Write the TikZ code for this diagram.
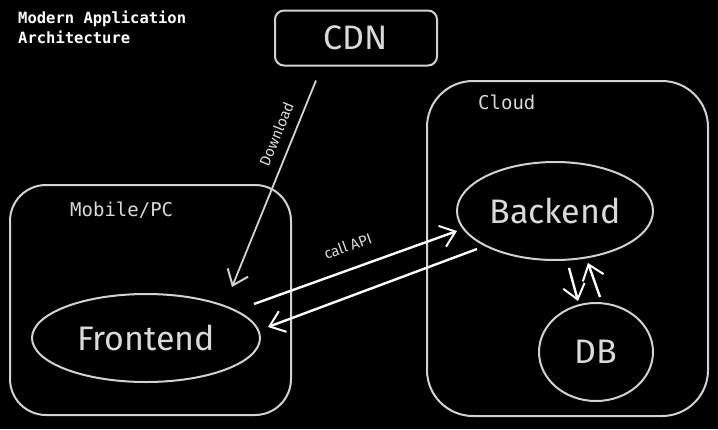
\documentclass[tikz,border=0pt]{standalone}
\usepackage{fontspec}
\usepackage{xcolor}
\usetikzlibrary{shapes.geometric, arrows.meta}

\newfontfamily\handfont{Fira Sans}
\newfontfamily\codefont{DejaVu Sans Mono}
\definecolor{inkgray}{HTML}{D2D2D2}
\definecolor{textgray}{HTML}{DADADA}

\begin{document}
\begin{tikzpicture}[
    x=1pt, y=-1pt,
    zone/.style={rectangle, draw=inkgray, line width=2pt, inner sep=0pt},
    enode/.style={ellipse, draw=inkgray, line width=2pt, inner sep=0pt, text=textgray, font=\handfont\fontsize{34}{40}\selectfont},
    zlabel/.style={anchor=west, text=textgray, inner sep=0pt, font=\codefont\fontsize{19}{22}\selectfont},
    arr/.style={-{Straight Barb[length=14pt, width=22pt, line width=2pt]}, line width=2.4pt, color=white},
    elabel/.style={text=textgray, inner sep=0pt, font=\handfont\fontsize{15}{17}\selectfont}
]
\fill[black] (0,0) rectangle (718,429);
\useasboundingbox (0,0) rectangle (718,429);

% title
\node[anchor=north west, align=left, inner sep=0pt, text=white, font=\codefont\bfseries\fontsize{15.5}{20}\selectfont] (title) at (18,11) {Modern Application\\Architecture};

% zones
\node[zone, rounded corners=9pt, minimum width=162pt, minimum height=55pt] (cdn) at (356,38) {};
\node[text=textgray, font=\handfont\fontsize{34}{40}\selectfont] (cdntext) at (356,38) {CDN};
\node[zone, rounded corners=36pt, minimum width=281pt, minimum height=230pt] (client) at (150.5,300) {};
\node[zone, rounded corners=46pt, minimum width=281pt, minimum height=335pt] (cloud) at (567.5,248.5) {};
\node[zlabel] (clientlabel) at (70,210) {Mobile/PC};
\node[zlabel] (cloudlabel) at (478,102) {Cloud};

% services
\node[enode, minimum width=228pt, minimum height=88pt] (frontend) at (146,338) {Frontend};
\node[enode, minimum width=196pt, minimum height=98pt] (backend) at (555,211) {Backend};
\node[enode, minimum width=114pt, minimum height=98pt] (db) at (596,352) {DB};

% connectors
\draw[arr, line width=1.8pt, color=inkgray] ([shift={(-40,14)}]cdn.south) -- node[elabel, sloped, above=10pt, pos=0.29] (dltext) {Download} ([shift={(86,-6)}]frontend.north);
\draw[arr] ([shift={(-7,-34)}]frontend.east) -- node[elabel, sloped, above=16pt, pos=0.5] (apitext) {call API} ([shift={(1,20)}]backend.west);
\draw[arr] ([shift={(21,38)}]backend.west) -- ([shift={(7,-11)}]frontend.east);
\draw[arr] ([shift={(14,7)}]backend.south) -- ([shift={(-18,-1)}]db.north);
\draw[arr] ([shift={(4,-5)}]db.north) -- ([shift={(33,2)}]backend.south);

\end{tikzpicture}
\end{document}
